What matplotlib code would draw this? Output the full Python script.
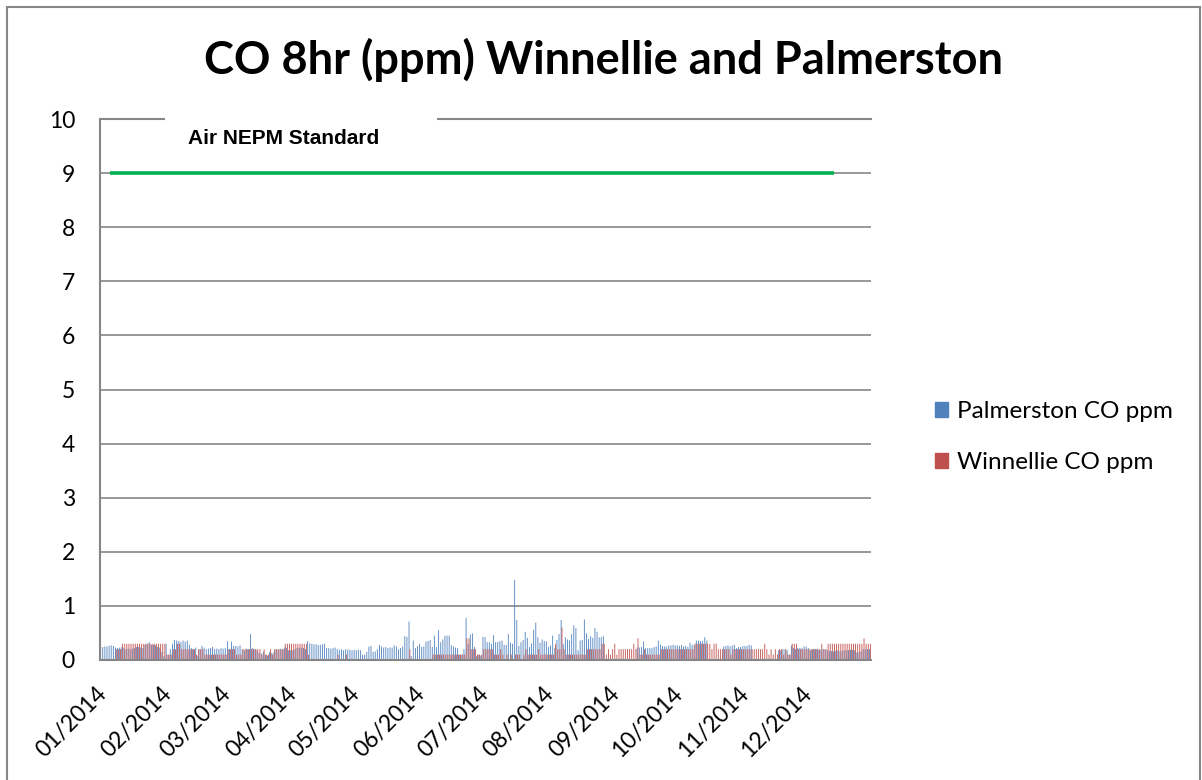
import matplotlib
matplotlib.use("Agg")
import matplotlib.pyplot as plt
import numpy as np
from matplotlib.patches import Patch, Rectangle
from matplotlib.transforms import ScaledTranslation

# daily 8hr CO (ppm), one list per month
palm = [
    # Jan
    [0.26, 0.24, 0.25, 0.25, 0.26, 0.27, 0.26, 0.23, 0.22, 0.23,
     0.24, 0.22, 0.2, 0.21, 0.2, 0.21, 0.22, 0.24, 0.24, 0.23, 0.22,
     0.28, 0.3, 0.33, 0.28, 0.28, 0.27, 0.24, 0.23, 0.15, 0.07],
    # Feb
    [0.3, 0.1, 0.2, 0.3, 0.37, 0.36, 0.35, 0.33, 0.36, 0.34, 0.36, 0.28,
     0.22, 0.2, 0.23, 0.08, 0.2, 0.26,
     0.23, 0.2, 0.21, 0.22, 0.24, 0.2, 0.21, 0.2, 0.22, 0.21],
    # Mar
    [0.22, 0.35, 0.2, 0.34, 0.26, 0.26, 0.25, 0.27, 0.2, 0.18, 0.21, 0.2,
     0.48, 0.22, 0.2, 0.18, 0.13, 0.12, 0.15, 0.1, 0.08, 0.15, 0.13, 0.14,
     0.2, 0.19, 0.21, 0.2, 0.23, 0.22, 0.18],
    # Apr
    [0.18, 0.18, 0.2, 0.22, 0.22, 0.23, 0.22, 0.2, 0.35,
     0.31, 0.3, 0.29, 0.29, 0.28, 0.28, 0.29, 0.3,
     0.22, 0.22, 0.21, 0.22, 0.23, 0.2, 0.19, 0.2, 0.18, 0.2, 0.19, 0.19, 0.18],
    # May
    [0.19, 0.18, 0.19, 0.18, 0.1, 0.1, 0.15, 0.25, 0.26,
     0.15, 0.16, 0.2, 0.28, 0.25, 0.23, 0.24, 0.22,
     0.23, 0.23, 0.27, 0.25, 0.2, 0.22, 0.25, 0.44, 0.43, 0.71,
     0.07, 0.36, 0.22, 0.26],
    # Jun
    [0.3, 0.24, 0.25, 0.34, 0.35, 0.37, 0.24, 0.45, 0.24, 0.55,
     0.33, 0.38, 0.45, 0.45, 0.45, 0.27, 0.25, 0.23, 0.22, 0.1, 0.1,
     0.2, 0.78, 0.3, 0.47, 0.49, 0.24, 0.07, 0.1, 0.08],
    # Jul
    [0.43, 0.42, 0.33, 0.33, 0.3, 0.46, 0.33, 0.33, 0.35, 0.36,
     0.28, 0.28, 0.48, 0.32, 0.3, 1.48, 0.74, 0.26, 0.33, 0.37,
     0.52, 0.41, 0.24, 0.31, 0.56, 0.69, 0.42, 0.32, 0.38, 0.35, 0.34],
    # Aug
    [0.24, 0.27, 0.45, 0.22, 0.37, 0.48, 0.74, 0.3, 0.42, 0.38,
     0.36, 0.48, 0.64, 0.59, 0.18, 0.36, 0.37, 0.75, 0.49, 0.39,
     0.44, 0.41, 0.59, 0.52, 0.42, 0.42, 0.44, 0, 0, 0, 0],
    # Sep
    [0, 0, 0, 0, 0, 0, 0, 0, 0, 0, 0,
     0.23, 0.23, 0.24, 0.34, 0.22, 0.22, 0.22, 0.22, 0.24, 0.25, 0.36,
     0.29, 0.26, 0.25, 0.25, 0.27, 0.27, 0.28, 0.27],
    # Oct
    [0.27, 0.26, 0.28, 0.25, 0.26, 0.24, 0.32, 0.28,
     0.28, 0.36, 0.36, 0.35, 0.35, 0.42, 0.36,
     0, 0, 0, 0, 0, 0, 0,
     0.25, 0.26, 0.27, 0.25, 0.27, 0.28, 0.22, 0.24, 0.24],
    # Nov
    [0.26, 0.26, 0.26, 0.28, 0.27,
     0, 0, 0, 0, 0, 0, 0, 0, 0, 0, 0, 0,
     0.18, 0.18, 0.2, 0.2, 0.18, 0.1,
     0.27, 0.22, 0.2, 0.22, 0.22, 0.22, 0.25],
    # Dec
    [0.25, 0.22, 0.18, 0.2, 0.2, 0.2, 0.19, 0.19, 0.2, 0.2,
     0.18, 0.17, 0.16, 0.16, 0.17, 0.18, 0.16, 0.17, 0.18,
     0.18, 0.18, 0.19, 0.19, 0.18, 0.14, 0.14, 0.16, 0.2, 0.2, 0.2, 0.2],
]

winn = [
    # Jan
    [0] * 7 + [0.2, 0.2, 0.2] + [0.3] * 21,
    # Feb
    [0.1, 0.1, 0.1, 0.2, 0.2, 0.3, 0.3, 0.2, 0.2, 0.2, 0.2, 0.2,
     0.2, 0.2, 0.1, 0.2, 0.2, 0.2] + [0.1] * 10,
    # Mar
    [0.1, 0.2, 0.2, 0.2, 0.2, 0.1, 0.1, 0.1] + [0.2] * 8
    + [0.2, 0.1, 0.2, 0.1, 0.1, 0.2, 0.1, 0.2] + [0.2] * 4 + [0.3] * 3,
    # Apr
    [0.3] * 8 + [0.1] + [0] * 13 + [0.1, 0, 0, 0, 0.1, 0, 0, 0],
    # May
    [0] * 26 + [0.2, 0, 0, 0, 0],
    # Jun
    [0] * 6 + [0.1] + [0.1] * 14 + [0.1, 0.4, 0.4, 0.2, 0.2, 0.2, 0.1, 0.1, 0.1],
    # Jul
    [0.2] * 5 + [0.1, 0.1, 0.1, 0.2, 0.1, 0, 0.1, 0, 0.1, 0, 0.1, 0.1,
     0.1, 0, 0.1, 0.2, 0.1, 0.1, 0.1, 0.1, 0.1, 0.2, 0.1, 0.1, 0.1, 0.1],
    # Aug
    [0.1, 0.1, 0.1, 0.3, 0.2, 0.2, 0.6, 0.2] + [0.1] * 10
    + [0.2] * 7 + [0.3, 0.3, 0.1, 0.2, 0.1, 0.2],
    # Sep
    [0.3, 0.1, 0.2] + [0.2] * 6 + [0.3, 0.2, 0.4,
     0.1, 0.1, 0.2, 0.1, 0.1, 0.1, 0.1, 0.1, 0.1, 0.1] + [0.2] * 8,
    # Oct
    [0.2] * 8 + [0.3] * 7 + [0.3, 0.2, 0.3, 0.3, 0.2, 0.2, 0.2]
    + [0.2, 0.2, 0.2, 0.1, 0.2, 0.2, 0.2, 0.2, 0.2],
    # Nov
    [0.2] * 5 + [0.2, 0.2, 0.2, 0.2, 0.2, 0.3] + [0.2, 0.1, 0.2, 0.1, 0.2, 0.1]
    + [0.2, 0.2, 0.1, 0.2, 0.1, 0.1] + [0.3, 0.3, 0.3, 0.2, 0.2, 0.2, 0.2],
    # Dec
    [0.2, 0.2, 0.2, 0.2, 0.2, 0.2, 0.2, 0.3, 0.2, 0.2] + [0.3] * 17
    + [0.4, 0.3, 0.3, 0.3],
]

month_labels = ["01/2014", "02/2014", "03/2014", "04/2014", "05/2014", "06/2014",
                "07/2014", "08/2014", "09/2014", "10/2014", "11/2014", "12/2014"]
nepm_level = 9
nepm_days = [4, 347]  # first / last day the standard line is drawn

month_len = [len(m) for m in palm]
palm_all = np.concatenate(palm)
winn_all = np.concatenate(winn)
assert [len(m) for m in winn] == month_len and len(palm_all) == 365
days = np.arange(len(palm_all))
month_start = np.concatenate([[0], np.cumsum(month_len)[:-1]])

fig = plt.figure(figsize=(12.02, 7.80), dpi=100)
ax = fig.add_axes([100 / 1202, 1 - 660 / 780, 771 / 1202, 541 / 780])

grey = "#868686"
w = 0.4
ax.bar(days - w / 2, palm_all, width=w, color="#4F81BD", linewidth=0, snap=False,
       label="Palmerston CO ppm", zorder=2)
ax.bar(days + w / 2, winn_all, width=w, color="#C0504D", linewidth=0, snap=False,
       label="Winnellie CO ppm", zorder=2)
ax.plot(nepm_days, [nepm_level] * 2, color="#00B050", lw=2.6, zorder=3, solid_capstyle="butt")

ax.set_xlim(-0.5, len(days) - 0.5)
ax.set_ylim(0, 10)
ax.set_yticks(range(0, 11))
ax.grid(axis="y", color=grey, lw=1.2, zorder=0)
ax.set_axisbelow(True)
ax.spines["right"].set_visible(False)
for s in ["left", "bottom", "top"]:
    ax.spines[s].set_color(grey)
    ax.spines[s].set_linewidth(1.5)
ax.tick_params(axis="y", length=0, pad=18, labelsize=16.5)
ax.set_xticks(month_start - 0.5)
ax.set_xticklabels(month_labels, rotation=45, ha="right", va="center",
                   rotation_mode="anchor", fontsize=16.5)
ax.tick_params(axis="x", length=0, pad=22)
off = ScaledTranslation(3 / 100, 0, fig.dpi_scale_trans)
for lab in ax.get_xticklabels():
    lab.set_transform(lab.get_transform() + off)
for lab in ax.get_xticklabels() + ax.get_yticklabels():
    lab.set_fontfamily("Lato")

# white box behind the standard label, covering the top gridline
ax.add_patch(Rectangle((65 / 771, 0.955), 272 / 771, 0.08, transform=ax.transAxes,
                       facecolor="white", edgecolor="none", clip_on=False, zorder=4))
ax.text(184 / 771, 1 - 19 / 541, "Air NEPM Standard", transform=ax.transAxes,
        ha="center", va="center", fontsize=15, fontweight="bold",
        family="Liberation Sans", zorder=5)

fig.text(0.5017, 1 - 60 / 780, "CO 8hr (ppm) Winnellie and Palmerston",
         ha="center", va="center", fontsize=32.5, fontweight="bold", family="Lato")

handles = [Patch(color="#4F81BD", label="Palmerston CO ppm"),
           Patch(color="#C0504D", label="Winnellie CO ppm")]
fig.legend(handles=handles, loc="center left", bbox_to_anchor=(913 / 1202, 1 - 437 / 780),
           frameon=False, prop={"family": "Lato", "size": 17.5},
           handlelength=0.55, handleheight=0.55, handletextpad=0.35, labelspacing=1.25)

# outer chart border
fig.add_artist(Rectangle((7 / 1202, -0.05), 1193 / 1202, 1.05 - 7 / 780,
                         transform=fig.transFigure, fill=False, edgecolor=grey, lw=1.5))

fig.savefig("out.png", dpi=100)
